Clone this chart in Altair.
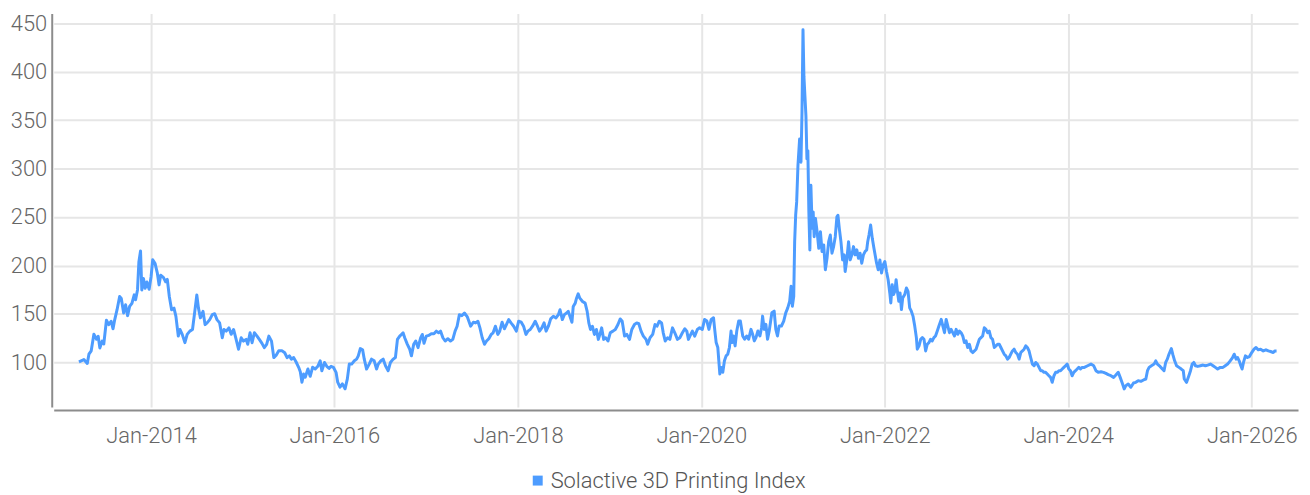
import altair as alt
import pandas as pd

SERIES_NAME = "Solactive 3D Printing Index"
LINE_COLOR = "#4d9cff"

# ---- data: (fractional year, index level) ----
years_2013_2015 = [2013.213, 2013.267, 2013.304, 2013.322, 2013.347, 2013.376, 2013.405, 2013.423, 2013.441, 2013.466,
                   2013.484, 2013.513, 2013.538, 2013.564, 2013.585, 2013.603, 2013.629, 2013.657, 2013.675, 2013.701,
                   2013.722, 2013.744, 2013.766, 2013.791, 2013.816, 2013.831, 2013.852, 2013.867, 2013.885, 2013.899,
                   2013.917, 2013.935, 2013.954, 2013.979, 2014.000, 2014.018, 2014.044, 2014.069, 2014.087, 2014.105,
                   2014.134, 2014.159, 2014.177, 2014.199, 2014.224, 2014.250, 2014.271, 2014.297, 2014.315, 2014.340,
                   2014.369, 2014.394, 2014.423, 2014.452, 2014.477, 2014.499, 2014.517, 2014.538, 2014.567, 2014.589,
                   2014.611, 2014.640, 2014.668, 2014.694, 2014.719, 2014.748, 2014.777, 2014.795, 2014.820, 2014.849,
                   2014.874, 2014.900, 2014.928, 2014.954, 2014.983, 2015.008, 2015.037, 2015.055, 2015.080, 2015.102,
                   2015.127, 2015.156, 2015.181, 2015.210, 2015.235, 2015.261]
values_2013_2015 = [100.7, 103, 99, 108.5, 112, 129, 124, 127, 115, 122,
                    119, 143.5, 139, 142.5, 134.7, 144, 154.4, 168, 166, 151,
                    159.5, 148.3, 157.8, 161, 169.7, 164.6, 174.8, 203.7, 215, 174.8,
                    186.7, 176.5, 183, 175.5, 188.4, 206, 202, 191.8, 180, 190,
                    187.8, 183.3, 185.7, 168, 154.4, 156, 147.6, 127.2, 134, 129,
                    120.4, 129, 132.3, 134, 152.7, 169.7, 156, 146, 152.7, 139,
                    140.8, 144.2, 149.3, 150.3, 144.2, 140.8, 125.5, 134, 132.3, 135.7,
                    129, 134, 123.8, 113.6, 125.5, 122, 123.8, 118.7, 130.6, 120.4,
                    130.6, 127.2, 123.8, 119.7, 115.3, 118.7]

years_2015_2017 = [2015.285, 2015.314, 2015.339, 2015.365, 2015.393, 2015.430, 2015.458, 2015.484, 2015.509, 2015.531,
                   2015.556, 2015.581, 2015.610, 2015.628, 2015.646, 2015.664, 2015.682, 2015.711, 2015.736, 2015.762,
                   2015.791, 2015.819, 2015.845, 2015.863, 2015.892, 2015.917, 2015.942, 2015.964, 2015.989, 2016.018,
                   2016.036, 2016.061, 2016.087, 2016.116, 2016.141, 2016.162, 2016.188, 2016.217, 2016.242, 2016.260,
                   2016.282, 2016.307, 2016.325, 2016.350, 2016.379, 2016.404, 2016.433, 2016.459, 2016.477, 2016.506,
                   2016.531, 2016.556, 2016.585, 2016.610, 2016.639, 2016.664, 2016.686, 2016.711, 2016.729, 2016.747,
                   2016.765, 2016.794, 2016.820, 2016.838, 2016.863, 2016.885, 2016.910, 2016.939, 2016.957, 2016.975,
                   2017.000, 2017.026, 2017.054, 2017.083, 2017.109, 2017.134, 2017.156, 2017.181, 2017.206, 2017.235,
                   2017.264, 2017.289, 2017.314, 2017.336, 2017.361, 2017.387, 2017.416]
values_2015_2017 = [127.2, 122, 105, 107.5, 112, 112, 110, 105, 106.8, 103.4,
                    105, 100.7, 95, 90.5, 79.6, 88, 84.7, 93.2, 85.7, 95,
                    93.2, 96, 101.7, 91.5, 100, 96, 93.9, 96, 95, 89.8,
                    79.6, 74.5, 77.9, 72.8, 83, 98.3, 98.3, 101.7, 103.4, 106.8,
                    114.3, 113, 103.4, 93.2, 98.3, 103.4, 101.7, 93.2, 98.3, 101.7,
                    103.4, 96.6, 91.5, 100, 103.4, 105, 123.8, 127.2, 128.9, 130.6,
                    125.5, 118.7, 113.6, 106.8, 118.7, 122.1, 115.3, 125.5, 128.9, 119.7,
                    127.2, 127.9, 129.6, 129.6, 132.3, 130.6, 132.3, 125.5, 122.1, 124.5,
                    122.1, 123.8, 132.3, 137.4, 149.3, 148.3, 151]

years_2017_2019 = [2017.448, 2017.484, 2017.513, 2017.538, 2017.563, 2017.585, 2017.610, 2017.635, 2017.657, 2017.682,
                   2017.708, 2017.729, 2017.754, 2017.780, 2017.801, 2017.827, 2017.852, 2017.874, 2017.899, 2017.924,
                   2017.953, 2017.982, 2018.007, 2018.036, 2018.061, 2018.087, 2018.108, 2018.134, 2018.159, 2018.188,
                   2018.213, 2018.235, 2018.260, 2018.285, 2018.307, 2018.332, 2018.357, 2018.386, 2018.415, 2018.441,
                   2018.459, 2018.484, 2018.506, 2018.531, 2018.549, 2018.567, 2018.589, 2018.603, 2018.625, 2018.639,
                   2018.657, 2018.675, 2018.704, 2018.733, 2018.755, 2018.773, 2018.791, 2018.812, 2018.834, 2018.856,
                   2018.877, 2018.899, 2018.913, 2018.935, 2018.957, 2018.982, 2019.007, 2019.036, 2019.062, 2019.091,
                   2019.116, 2019.137, 2019.163, 2019.188, 2019.217, 2019.242, 2019.271, 2019.296, 2019.318, 2019.343,
                   2019.368, 2019.397, 2019.415, 2019.441, 2019.470, 2019.495, 2019.517, 2019.542, 2019.567, 2019.585,
                   2019.607, 2019.632, 2019.657, 2019.686, 2019.711, 2019.740, 2019.766, 2019.794, 2019.820, 2019.842,
                   2019.860, 2019.885, 2019.903, 2019.928, 2019.957]
values_2017_2019 = [147, 137.4, 141.5, 140.8, 142.5, 135.7, 125.5, 118.7, 122.1, 124.5,
                    128.9, 130.6, 137.4, 128.9, 132.3, 141.5, 134.7, 139.1, 144.2, 140.8,
                    137.4, 132.3, 142.5, 141.5, 137.4, 128.9, 132.3, 134, 137.4, 142.5,
                    137.4, 132.3, 135.7, 140.8, 132.3, 137.4, 144.9, 147.6, 145.9, 149.3,
                    154.4, 144.2, 149.3, 151, 152.7, 147.6, 141.5, 157.8, 161.2, 166.3,
                    170.7, 166.3, 162.9, 161.2, 152.7, 140.8, 134, 137.4, 128.9, 134,
                    123.8, 130.6, 135.7, 123.8, 125.5, 122.1, 130.6, 132.3, 134, 139.1,
                    144.9, 142.5, 127.2, 128.9, 123.8, 134, 139.1, 140.8, 140.1, 132.3,
                    127.2, 123.8, 118.7, 125.5, 128.9, 139.1, 137.4, 142.5, 140.8, 130.6,
                    122.1, 125.5, 123.8, 135.7, 130.6, 123.8, 125.5, 130.6, 134.7, 132.3,
                    123.8, 128.9, 132.3, 127.2, 134]

years_2020_2021 = [2019.982, 2020.011, 2020.036, 2020.061, 2020.083, 2020.108, 2020.133, 2020.148, 2020.162, 2020.180,
                   2020.191, 2020.202, 2020.216, 2020.234, 2020.252, 2020.270, 2020.288, 2020.306, 2020.324, 2020.335,
                   2020.350, 2020.368, 2020.386, 2020.407, 2020.425, 2020.451, 2020.472, 2020.494, 2020.515, 2020.541,
                   2020.559, 2020.577, 2020.595, 2020.616, 2020.638, 2020.656, 2020.667, 2020.685, 2020.703, 2020.721,
                   2020.739, 2020.768, 2020.793, 2020.811, 2020.829, 2020.847, 2020.872, 2020.897, 2020.919, 2020.941,
                   2020.962, 2020.977, 2020.991, 2021.006, 2021.016, 2021.027, 2021.038, 2021.052, 2021.070, 2021.085,
                   2021.096, 2021.107, 2021.117, 2021.128, 2021.139, 2021.150, 2021.160, 2021.171, 2021.182, 2021.193,
                   2021.207, 2021.218, 2021.229, 2021.243, 2021.261, 2021.279, 2021.297, 2021.315, 2021.333, 2021.351,
                   2021.369, 2021.387, 2021.405, 2021.423, 2021.441, 2021.459, 2021.477, 2021.488, 2021.503, 2021.521,
                   2021.539, 2021.556, 2021.567, 2021.585, 2021.604, 2021.622, 2021.640, 2021.658, 2021.676, 2021.694,
                   2021.712, 2021.730, 2021.748, 2021.766, 2021.784, 2021.802, 2021.813, 2021.827, 2021.845, 2021.863,
                   2021.881]
values_2020_2021 = [135.8, 134.1, 144.4, 142.7, 134.1, 144.4, 146.1, 132.4, 120.5, 115.4,
                    101.7, 88, 94.9, 89.8, 101.7, 106.8, 108.5, 115.4, 132.4, 120.5,
                    127.3, 117.1, 132.4, 142.7, 142.7, 127.3, 123.9, 127.3, 123.9, 134.1,
                    129, 122.2, 125.6, 132.4, 127.3, 135.8, 147.8, 134.1, 139.3, 123.9,
                    132.4, 151.2, 152.9, 134.1, 127.3, 137.6, 137.6, 142.7, 151.2, 156.3,
                    163.2, 178.5, 158, 168.3, 224.6, 251.9, 265.6, 303.1, 330.5, 306.6,
                    357.8, 443.1, 395.3, 374.8, 354.4, 310, 318.5, 255.3, 216.1, 282.7,
                    238.3, 255.3, 229.7, 248.5, 234.9, 217.8, 234.9, 214.4, 221.2, 195.6,
                    207.5, 224.6, 231.4, 212.7, 219.5, 229.7, 250.2, 251.9, 238.3, 224.6,
                    205.8, 211, 193.9, 205.8, 224.6, 205.8, 211, 219.5, 211, 216.1,
                    207.5, 212.7, 202.4, 211, 214.4, 216.1, 224.6, 231.4, 241.7, 228,
                    217.8]

years_2022_2024 = [2021.910, 2021.928, 2021.946, 2021.964, 2021.982, 2022.000, 2022.018, 2022.036, 2022.054, 2022.065,
                   2022.080, 2022.094, 2022.109, 2022.123, 2022.137, 2022.152, 2022.166, 2022.181, 2022.195, 2022.217,
                   2022.235, 2022.253, 2022.271, 2022.289, 2022.307, 2022.326, 2022.344, 2022.354, 2022.373, 2022.391,
                   2022.409, 2022.427, 2022.445, 2022.463, 2022.481, 2022.499, 2022.517, 2022.535, 2022.553, 2022.572,
                   2022.590, 2022.615, 2022.633, 2022.651, 2022.669, 2022.687, 2022.705, 2022.723, 2022.741, 2022.760,
                   2022.778, 2022.796, 2022.814, 2022.832, 2022.850, 2022.868, 2022.886, 2022.904, 2022.922, 2022.940,
                   2022.958, 2022.977, 2022.995, 2023.013, 2023.031, 2023.049, 2023.067, 2023.085, 2023.103, 2023.121,
                   2023.139, 2023.157, 2023.175, 2023.194, 2023.212, 2023.230, 2023.248, 2023.266, 2023.284, 2023.302,
                   2023.320, 2023.338, 2023.356, 2023.374, 2023.392, 2023.410, 2023.429, 2023.447, 2023.465, 2023.483,
                   2023.501, 2023.519, 2023.537, 2023.555, 2023.573, 2023.591, 2023.610, 2023.628, 2023.646, 2023.664,
                   2023.682, 2023.700, 2023.718, 2023.736, 2023.754, 2023.772, 2023.790, 2023.808, 2023.826, 2023.845,
                   2023.863, 2023.881, 2023.899, 2023.917, 2023.935, 2023.953, 2023.971, 2023.989, 2024.007, 2024.025,
                   2024.043, 2024.061, 2024.080, 2024.098, 2024.116, 2024.134, 2024.152]
values_2022_2024 = [202.4, 195.6, 205.8, 192.2, 200.7, 204.1, 193.9, 185.3, 171.7, 161.4,
                    180.2, 170, 173.4, 185.3, 173.4, 163.1, 171.7, 154.6, 166.6, 170,
                    176.8, 173.4, 156.3, 152.9, 147.8, 137.5, 125.6, 113.7, 117.1, 123.9,
                    125.6, 123.9, 111.9, 118.8, 120.5, 123.9, 122.2, 125.6, 127.3, 132.4,
                    137.5, 144.4, 137.5, 130.7, 144.4, 137.5, 130.7, 134.1, 130.7, 127.3,
                    134.1, 129, 132.4, 130.7, 127.3, 120.5, 122.2, 115.4, 118.8, 111.9,
                    110.2, 111.9, 113.7, 118.8, 123.9, 125.6, 127.3, 135.8, 134.1, 130.7,
                    132.4, 125.6, 123.9, 115.4, 117.1, 118.8, 118.8, 115.4, 111.9, 108.5,
                    106.8, 103.4, 105.1, 108.5, 111.9, 113.7, 110.2, 108.5, 103.4, 110.2,
                    111.9, 113.7, 117.1, 115.4, 111.9, 105.1, 98.3, 96.6, 100, 98.3,
                    94.9, 91.5, 91.5, 89.8, 89.8, 88.1, 86.3, 84.6, 79.5, 86.3,
                    89.8, 89.8, 91.5, 91.5, 93.2, 94.9, 96.6, 98.3, 93.2, 91.5,
                    86.3, 89.8, 91.5, 93.2, 94.9, 93.2, 94.9]

years_2024_2026 = [2024.176, 2024.212, 2024.248, 2024.278, 2024.302, 2024.327, 2024.357, 2024.385, 2024.411, 2024.436,
                   2024.465, 2024.494, 2024.519, 2024.545, 2024.566, 2024.592, 2024.610, 2024.628, 2024.653, 2024.682,
                   2024.711, 2024.736, 2024.762, 2024.791, 2024.820, 2024.845, 2024.863, 2024.881, 2024.906, 2024.935,
                   2024.953, 2024.971, 2025.000, 2025.025, 2025.043, 2025.061, 2025.079, 2025.097, 2025.123, 2025.141,
                   2025.159, 2025.180, 2025.206, 2025.231, 2025.253, 2025.264, 2025.289, 2025.314, 2025.332, 2025.350,
                   2025.368, 2025.386, 2025.411, 2025.440, 2025.469, 2025.494, 2025.520, 2025.549, 2025.578, 2025.603,
                   2025.628, 2025.657, 2025.686, 2025.711, 2025.737, 2025.765, 2025.791, 2025.809, 2025.830, 2025.845,
                   2025.863, 2025.881, 2025.895, 2025.910, 2025.931, 2025.953, 2025.975, 2026.000, 2026.025, 2026.047,
                   2026.072, 2026.097, 2026.126, 2026.155, 2026.181, 2026.206, 2026.235, 2026.253, 2026.271]
values_2024_2026 = [94.9, 96.6, 98.3, 96.6, 91.5, 89.8, 90.4, 89.8, 88.7, 87.4,
                    86.3, 84.6, 87, 89.8, 84.6, 77.8, 72.7, 76.1, 77.8, 74.4,
                    78.8, 79.5, 81.2, 80.5, 81.9, 82.9, 91.5, 94.9, 96.6, 98.3,
                    101.7, 98.3, 95.9, 93.2, 91.5, 100, 103.4, 108.5, 114.3, 107.5,
                    101.7, 96.6, 94.9, 93.2, 91.5, 82.9, 79.5, 86.3, 91.5, 98.3,
                    100, 96.6, 95.9, 96.6, 97.3, 96.6, 97.3, 98.3, 96.6, 94.9,
                    93.2, 94.9, 94.9, 96.6, 98.3, 101.7, 105.1, 108.5, 103.4, 105.1,
                    101.7, 96.6, 93.2, 100, 106.8, 105.1, 106.1, 110.2, 113.7, 115.4,
                    113, 113.7, 111.9, 113, 111.9, 111.3, 110.2, 111.9, 111.9]

y_ticks = [100, 150, 200, 250, 300, 350, 400, 450]
x_tick_years = [2014, 2016, 2018, 2020, 2022, 2024, 2026]


def frac_year_to_iso(y):
    yr = int(y)
    start = pd.Timestamp(yr, 1, 1)
    end = pd.Timestamp(yr + 1, 1, 1)
    return (start + (end - start) * (y - yr)).strftime("%Y-%m-%dT%H:%M:%S")


years = (years_2013_2015 + years_2015_2017 + years_2017_2019 + years_2020_2021
         + years_2022_2024 + years_2024_2026)
values = (values_2013_2015 + values_2015_2017 + values_2017_2019 + values_2020_2021
          + values_2022_2024 + values_2024_2026)

df = pd.DataFrame({
    "date": [frac_year_to_iso(y) for y in years],
    "value": values,
    "series": SERIES_NAME,
})

FONT = "Roboto"

x_domain = [frac_year_to_iso(2012.938), frac_year_to_iso(2026.505)]

chart = alt.Chart(df).mark_line(strokeWidth=3, strokeJoin="round").encode(
    x=alt.X(
        "date:T",
        scale=alt.Scale(domain=x_domain),
        axis=alt.Axis(
            title=None,
            values=[alt.DateTime(year=y, month=1, date=1) for y in x_tick_years],
            format="%b-%Y",
            labelFontSize=22,
            labelPadding=16,
            offset=3,
        ),
    ),
    y=alt.Y(
        "value:Q",
        scale=alt.Scale(domain=[54, 460], nice=False, zero=False),
        axis=alt.Axis(
            title=None,
            values=y_ticks,
            labelFontSize=22,
            labelPadding=5,
            offset=2,
        ),
    ),
    color=alt.Color(
        "series:N",
        scale=alt.Scale(range=[LINE_COLOR]),
        legend=alt.Legend(
            title=None,
            orient="none",
            legendX=476,
            legendY=459,
            symbolType="square",
            symbolSize=100,
            symbolStrokeWidth=0,
            symbolFillColor=LINE_COLOR,
            labelFontSize=22,
            labelFontWeight=300,
            labelColor="#555555",
            labelFont=FONT,
            labelOffset=2,
            labelLimit=500,
        ),
    ),
).properties(
    width=1252,
    height=396,
    autosize=alt.AutoSizeParams(type="none"),
    padding={"left": 46, "top": 4, "right": 4, "bottom": 87},
).configure_view(
    strokeWidth=0,
).configure_axis(
    grid=True,
    gridColor="#e6e6e6",
    gridWidth=2,
    ticks=False,
    domainColor="#8c8c8c",
    domainWidth=2,
    labelColor="#666666",
    labelFont=FONT,
    labelFontWeight=300,
)

chart.save("out.html", embed_options={"renderer": "svg", "actions": False})
